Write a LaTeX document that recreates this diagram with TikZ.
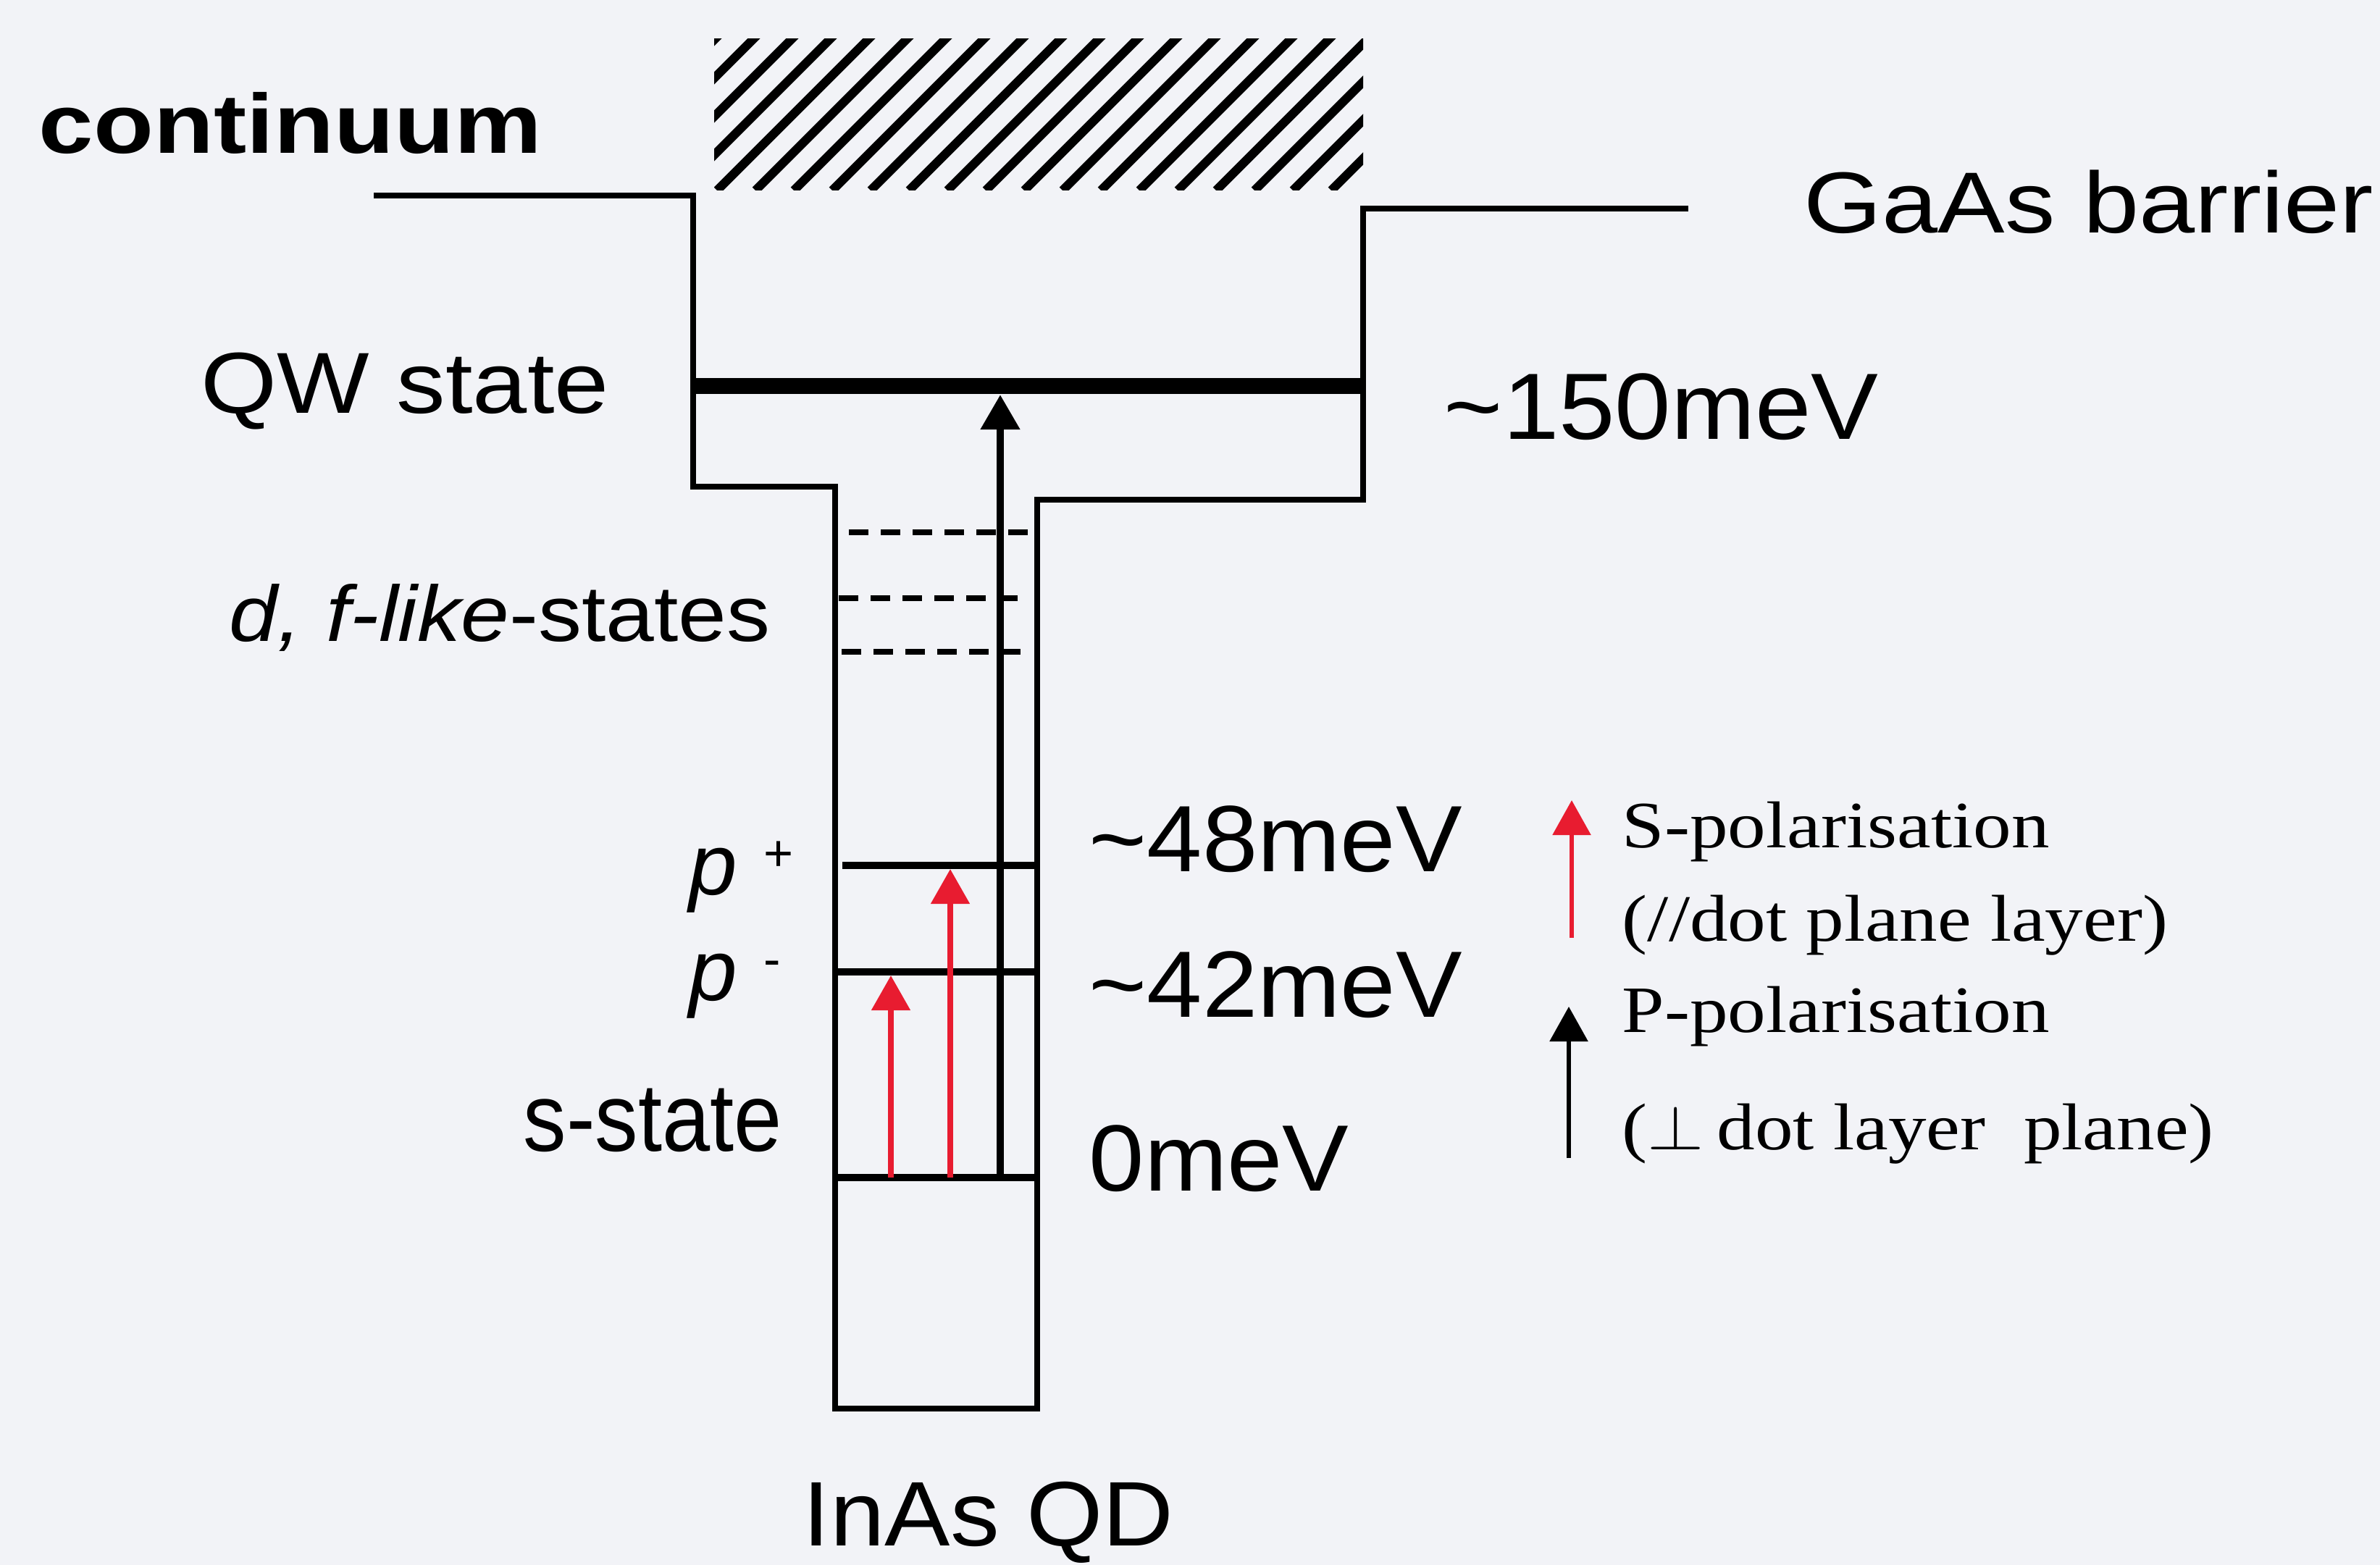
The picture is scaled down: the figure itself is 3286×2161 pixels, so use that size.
\documentclass[tikz,border=0pt]{standalone}
\usepackage{fontspec}
\setmainfont{Liberation Serif}
\setsansfont{Liberation Sans}
\usetikzlibrary{arrows.meta}

\definecolor{paper}{RGB}{242,243,247}
\definecolor{spol}{RGB}{232,28,48}

\newcommand{\fsz}[1]{\fontsize{#1}{#1}\selectfont}

\begin{document}
\begin{tikzpicture}[x=0.01cm, y=-0.01cm,
    >={Triangle[width=0.52cm,length=0.48cm]},
    wall/.style={line width=2pt, line join=miter},
    level/.style={line width=2.8pt},
    sublevel/.style={line width=2pt, dash pattern=on 0.27cm off 0.17cm},
    ppol/.style={->, line width=3pt},
    spolarrow/.style={->, spol, line width=2.3pt},
    lbl/.style={inner sep=0pt, anchor=base west},
    sf/.style={font=\sffamily\fsz{#1}},
    legend/.style={lbl, font=\rmfamily\fsz{26}, xscale=1.15}]
        % Parameters (pixel rows of the levels)
        \def\qwY{533}
        \def\pplusY{1195}
        \def\pminusY{1342}
        \def\sY{1626}

        % Page
        \fill[paper] (0,0) rectangle (3286,2161);
        \useasboundingbox (0,0) rectangle (3286,2161);

        % Continuum (hatched block)
        \begin{scope}
            \clip (986,54) rectangle (1882,263);
            \foreach \k in {-4,...,17}
                \draw[line width=3.5pt] ({990+53*\k},263) -- ++(215,-215);
        \end{scope}

        % Band profile: GaAs barrier, QW and InAs QD
        \draw[wall] (516,270) -- (957,270) -- (957,672) -- (1153,672) -- (1153,1945)
            -- (1432,1945) -- (1432,690) -- (1882,690) -- (1882,288) -- (2331,288);

        % QW state
        \draw[line width=6.2pt] (957,\qwY) -- (1882,\qwY);
        \coordinate (QW) at (1381,545);

        % d, f-like states
        \foreach \y/\a/\b in {735/1172/1423, 826/1158/1405, 900/1162/1417}
            \draw[sublevel] (\a,\y) -- (\b,\y);

        % p and s levels
        \draw[level] (1163,\pplusY) -- (1432,\pplusY);
        \draw[level] (1153,\pminusY) -- (1432,\pminusY);
        \draw[level] (1153,\sY) -- (1432,\sY);
        \coordinate (Pp) at (1312,1200);
        \coordinate (Pm) at (1230,1347);

        % Transitions
        \draw[ppol] (1381,\sY) -- (QW);
        \draw[spolarrow] (1230,\sY) -- (Pm);
        \draw[spolarrow] (1312,\sY) -- (Pp);

        % Labels
        \node[lbl, font=\sffamily\bfseries\fsz{33}, xscale=1.17] (cont) at (53,212) {continuum};
        \node[lbl, sf=34, xscale=1.13] (qwlbl) at (277,571) {QW state};
        \node[lbl, sf=34, xscale=1.16] (gaas) at (2490,322) {GaAs barrier};
        \node[lbl, sf=37, xscale=1.07] (e150) at (1993,607) {\textasciitilde150meV};
        \node[lbl, sf=31, xscale=1.1] (dfl) at (316,886) {\textit{d, f-like}-states};
        \node[lbl, sf=34] (pplbl) at (951,1235) {\textit{p}\hspace{0.3em}\raisebox{0.27em}{\fsz{20}+}};
        \node[lbl, sf=34] (pmlbl) at (951,1381) {\textit{p}\hspace{0.3em}\raisebox{0.27em}{\fsz{20}-}};
        \node[lbl, sf=38, xscale=0.89] (slbl) at (722,1589) {s-state};
        \node[lbl, sf=37, xscale=1.055] (e48) at (1503,1203) {\textasciitilde48meV};
        \node[lbl, sf=37, xscale=1.055] (e42) at (1503,1404) {\textasciitilde42meV};
        \node[lbl, sf=37, xscale=1.055] (e0) at (1503,1644) {0meV};
        \node[lbl, sf=36, xscale=1.07] (qd) at (1108,2134) {InAs QD};

        % Legend
        \coordinate (Stop) at (2170,1105);
        \coordinate (Ptop) at (2166,1390);
        \draw[spolarrow, line width=1.6pt] (2170,1295) -- (Stop);
        \draw[ppol, line width=1.6pt] (2166,1599) -- (Ptop);
        \node[legend] (spl) at (2239,1170) {S-polarisation};
        \node[legend] (splb) at (2239,1299) {(//dot plane layer)};
        \node[legend] (ppl) at (2239,1425) {P-polarisation};
        \node[legend] (pplb) at (2239,1587) {({\fsz{32}$\perp$}\,dot layer\ \ plane)};
\end{tikzpicture}
\end{document}
